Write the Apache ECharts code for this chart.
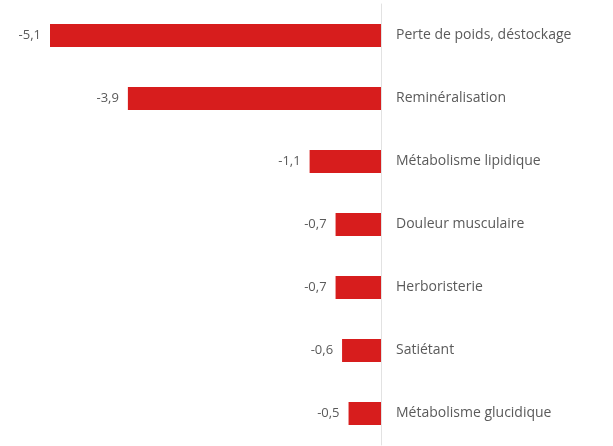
<!DOCTYPE html>
<html>
<head>
<meta charset="utf-8">
<script src="https://cdn.jsdelivr.net/npm/echarts@6/dist/echarts.min.js"></script>
<style>
html,body{margin:0;padding:0;background:#fff;}
#chart{width:613px;height:446px;}
</style>
</head>
<body>
<div id="chart"></div>
<script>
// categories (top to bottom) and values
var categories = ["Perte de poids, déstockage","Reminéralisation","Métabolisme lipidique","Douleur musculaire","Herboristerie","Satiétant","Métabolisme glucidique"];
var values = [-5.1,-3.9,-1.1,-0.7,-0.7,-0.6,-0.5];

var myChart = echarts.init(document.getElementById("chart"));
var option = {
	animation:false,
	grid:{left:50,right:232,top:4,bottom:1},
	xAxis:{
		type:'value',
		min:-5.1,
		max:0,
		show:false
	},
	yAxis:{
		type:'category',
		data:categories,
		inverse:true,
		position:'right',
		axisLine:{show:true,lineStyle:{color:'#e2e2e2',width:1}},
		axisTick:{show:false},
		axisLabel:{
			margin:15,
			color:'#5a5a5a',
			fontSize:14,
			fontFamily:'Open Sans'
		}
	},
	series:[{
		type:'bar',
		data:values,
		barWidth:23,
		itemStyle:{color:'#d71d1d'},
		label:{
			show:true,
			position:'left',
			distance:9,
			color:'#5a5a5a',
			fontSize:13,
			fontFamily:'Open Sans',
			formatter:function(p){
				//virgule décimale
				return String(p.value).replace('.',',');
			}
		}
	}]
};
myChart.setOption(option);
</script>
</body>
</html>
